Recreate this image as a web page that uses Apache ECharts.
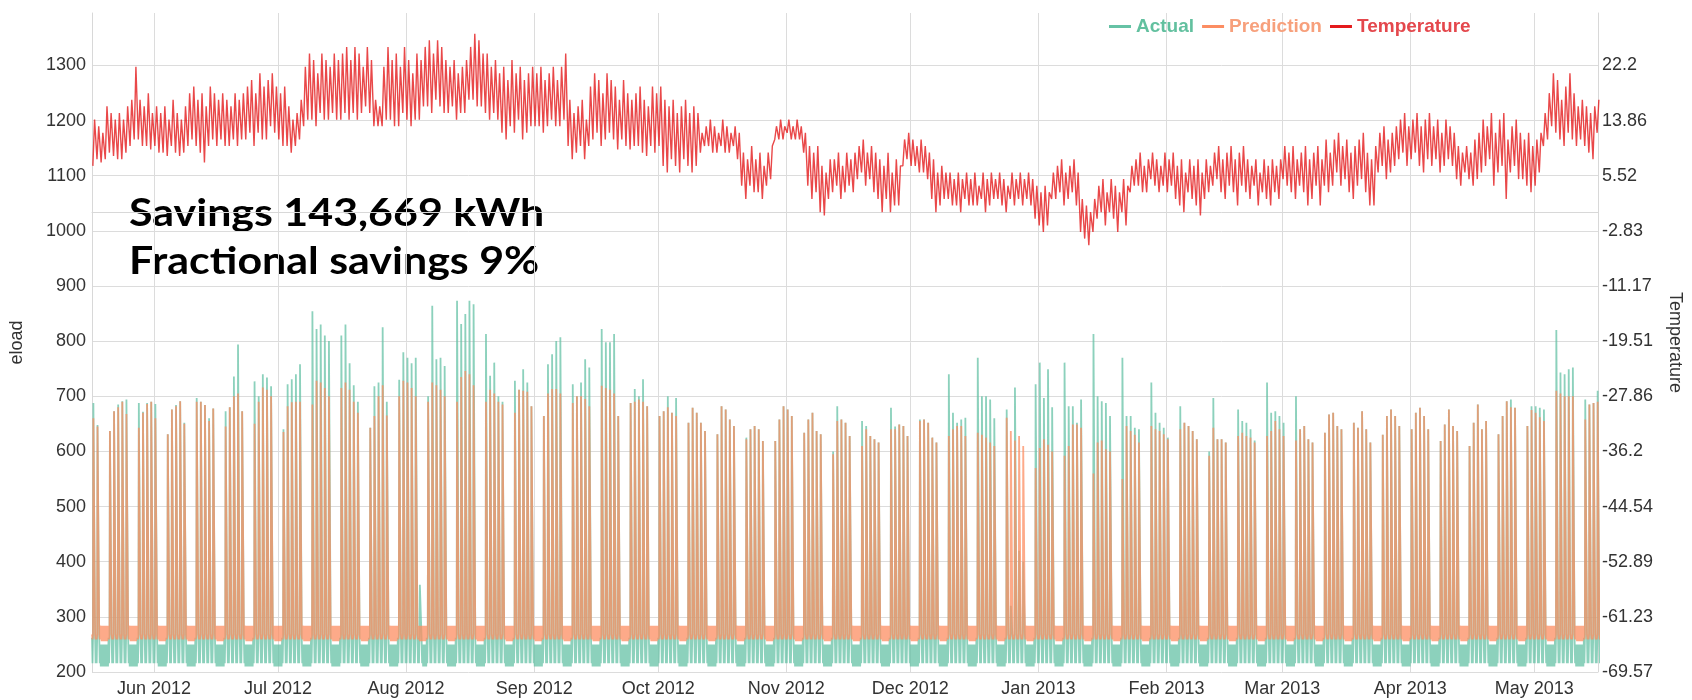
<!DOCTYPE html>
<html>
<head>
<meta charset="utf-8">
<title>eload: actual vs prediction</title>
<script src="https://cdn.jsdelivr.net/npm/echarts@6/dist/echarts.min.js"></script>
<style>
  html, body { margin: 0; padding: 0; background: #fff; }
  #chart { width: 1692px; height: 700px; }
</style>
</head>
<body>
<div id="chart"></div>
<script>
// daytime peak of each working day, one row per week (Mon..Fri), first row = week of Mon 2012-05-14
const actualPeak = [
  [null, null, null, 688, 648],
  [637, 673, 685, 691, 694], [688, 672, 688, 690, 686], [631, 676, 684, 691, 652], [697, 690, 684, 660, 678],
  [673, 680, 736, 794, 673], [727, 700, 740, 734, 718], [640, 722, 731, 740, 758], [854, 822, 830, 810, 800],
  [810, 830, 760, 720, 690], [643, 718, 725, 825, 690], [730, 780, 770, 760, 770], [700, 864, 767, 770, 755],
  [873, 831, 849, 873, 867], [813, 737, 761, 700, 690], [728, 712, 749, 725, 682], [664, 758, 776, 800, 807],
  [722, 700, 725, 767, 752], [822, 798, 798, 813, 664], [688, 713, 700, 731, 682], [664, 673, 700, 670, 697],
  [652, 679, 670, 652, 637], [631, 682, 676, 658, 646], [625, 640, 646, 640, 619], [619, 658, 682, 676, 664],
  [634, 658, 670, 637, 631], [600, 682, 658, 652, 628], [655, 646, 628, 622, 616], [679, 645, 649, 646, 628],
  [658, 658, 652, 625, 616], [740, 670, 652, 658, 661], [770, 700, 700, 694, 660], [676, 320, 716, 420, 400],
  [722, 761, 697, 749, 680], [761, 682, 682, 652, 694], [813, 700, 691, 688, 664], [770, 664, 664, 643, 640],
  [725, 670, 652, 643, 625], [682, 652, 646, 637, 622], [600, 697, 622, 622, 616], [676, 655, 652, 640, 620],
  [725, 670, 673, 664, 652], [700, 640, 646, 622, 616], [634, 667, 670, 646, 640], [652, 643, 673, 640, 616],
  [630, 664, 676, 664, 646], [640, 670, 679, 664, 640], [619, 649, 676, 646, 637], [610, 652, 685, 640, 655],
  [631, 664, 691, 694, 679], [646, 682, 682, 679, 676], [820, 743, 740, 749, 752], [694, 685, 688, 710, null]
];
const predictionPeak = [
  [null, null, null, 660, 645],
  [637, 673, 680, 690, 668], [643, 670, 686, 690, 660], [631, 676, 682, 691, 650], [690, 690, 684, 655, 678],
  [645, 680, 700, 705, 673], [650, 690, 716, 712, 700], [635, 682, 689, 690, 690], [685, 728, 725, 715, 700],
  [715, 725, 712, 690, 670], [643, 664, 700, 720, 665], [700, 728, 725, 715, 700], [690, 725, 720, 712, 700],
  [690, 735, 746, 740, 720], [690, 712, 705, 690, 685], [670, 712, 710, 708, 682], [664, 705, 713, 713, 705],
  [688, 700, 700, 695, 682], [719, 715, 712, 705, 664], [688, 690, 694, 690, 682], [664, 673, 680, 670, 664],
  [652, 679, 670, 652, 637], [631, 682, 676, 658, 646], [622, 640, 646, 640, 619], [619, 658, 682, 676, 664],
  [634, 658, 670, 637, 631], [595, 655, 658, 652, 628], [610, 640, 628, 622, 616], [640, 640, 649, 646, 628],
  [655, 658, 652, 625, 616], [628, 640, 646, 646, 628], [634, 630, 625, 616, 610], [661, 637, 620, 628, 610],
  [570, 606, 622, 612, 600], [592, 610, 649, 649, 643], [560, 616, 620, 604, 600], [550, 646, 637, 630, 616],
  [646, 640, 637, 631, 622], [640, 652, 646, 637, 622], [592, 643, 622, 622, 616], [628, 634, 628, 625, 616],
  [628, 637, 655, 640, 628], [620, 640, 646, 622, 616], [634, 667, 670, 646, 640], [652, 643, 673, 640, 616],
  [630, 664, 676, 664, 646], [640, 670, 679, 664, 640], [619, 649, 676, 646, 637], [610, 652, 685, 640, 655],
  [631, 664, 691, 680, 679], [646, 675, 670, 662, 655], [710, 705, 700, 700, 700], [658, 685, 688, 690, null]
];
// weekend days that still show a small peak
const actualExtra = { '2012-08-04': 358 };

// night levels of each series: [weekend upper, weekend lower, workday upper, workday lower]
const actualNight = [250, 210, 262, 216];
const predictionNight = [284, 256, 268, 259];

// daily min / max temperature, one value per day from 2012-05-17
const tempHi = [
  14, 13, 12, 16, 15, 14, 15, 14, 16, 17, 22, 17, 16, 18, 15, 16, 15, 16, 14, 17,
  15, 14, 16, 18, 19, 17, 18, 16, 19, 18, 17, 18, 17, 16, 18, 17, 18, 19, 20, 18,
  21, 19, 20, 21, 19, 18, 19, 16, 14, 15, 17, 22, 24, 23, 21, 24, 23, 22, 24, 23,
  24, 25, 23, 25, 24, 22, 25, 23, 17, 16, 22, 25, 23, 24, 22, 25, 23, 21, 24, 23,
  25, 26, 24, 26, 25, 23, 22, 23, 21, 22, 23, 25, 27, 26, 24, 24, 22, 23, 21, 22,
  20, 23, 21, 22, 20, 21, 22, 21, 22, 20, 21, 22, 20, 22, 24, 17, 15, 16, 17, 14,
  19, 21, 20, 18, 21, 20, 19, 17, 20, 18, 17, 18, 19, 17, 16, 19, 18, 19, 17, 16,
  17, 15, 16, 17, 15, 16, 15, 12, 13, 14, 13, 12, 14, 13, 12, 13, 12, 9, 8, 10,
  8, 9, 7, 9, 10, 13, 14, 13, 14, 13, 14, 13, 12, 10, 9, 10, 7, 6, 8, 8,
  9, 7, 9, 8, 9, 10, 11, 9, 10, 9, 8, 7, 9, 6, 8, 7, 11, 12, 11, 10,
  11, 10, 9, 8, 6, 7, 6, 6, 5, 6, 5, 6, 5, 6, 4, 6, 5, 6, 5, 6,
  5, 4, 6, 5, 6, 5, 6, 5, 4, 3, 4, 3, 6, 7, 8, 6, 7, 8, 6, 2,
  1, 0, 2, 4, 5, 3, 5, 4, 3, 5, 4, 7, 8, 9, 7, 8, 9, 8, 7, 9,
  8, 9, 7, 8, 6, 8, 7, 8, 6, 8, 7, 9, 10, 8, 9, 10, 8, 9, 10, 8,
  7, 8, 6, 8, 7, 8, 7, 8, 10, 9, 10, 8, 9, 10, 8, 9, 10, 8, 11, 9,
  11, 12, 10, 11, 9, 10, 11, 12, 9, 8, 10, 12, 13, 11, 12, 13, 14, 15, 13, 14,
  15, 13, 14, 15, 13, 14, 12, 14, 13, 12, 10, 9, 10, 9, 11, 12, 14, 13, 15, 12,
  14, 15, 11, 13, 14, 12, 11, 12, 10, 11, 12, 15, 18, 21, 20, 17, 19, 21, 18, 16,
  17, 16, 15, 16, 17
];
const tempLo = [
  7, 8, 7.5, 8, 9, 8.5, 8, 8, 9, 10, 11, 11, 10, 10, 9.5, 10, 9, 9, 8.5, 10,
  9, 8.5, 9, 10, 11, 10, 9, 7.5, 10, 11, 10, 11, 10, 10, 11, 10, 11, 11, 12, 10,
  12, 11, 11, 13, 12, 11, 10, 10, 9, 10, 11, 13, 14, 14, 13, 15, 14, 14, 15, 14,
  14, 15, 14, 15, 14, 15, 16, 15, 13, 13, 13, 14, 14, 13, 13, 15, 14, 13, 14, 14,
  16, 16, 15, 17, 16, 15, 15, 16, 14, 15, 15, 17, 17, 16, 16, 15, 14, 15, 14, 12,
  11, 13, 12, 14, 11, 12, 13, 13, 13, 12, 13, 14, 13, 13, 14, 10, 8, 9, 10, 8,
  10, 11, 12, 10, 11, 12, 11, 9.5, 11, 10, 9.5, 10, 10, 9, 8.5, 10, 9, 10, 7, 6,
  8, 7, 6, 8, 7, 6, 7, 9, 10, 10, 9, 9, 10, 9, 9, 10, 8, 4, 2, 4,
  3, 3, 2, 4, 5, 11, 11, 11, 12, 11, 11, 11, 9, 4, 2, 3, 0, -0.5, 2, 3,
  4, 2, 3, 4, 3, 5, 6, 4, 5, 3, 2, 0, 2, 0, 1, 1, 7, 8, 7, 7,
  6, 6, 5, 2, 0, 1, 2, 2, 1, 1, 0, 2, 1, 1, 1, 2, 0, 1, 2, 2,
  1, 0, 2, 1, 2, 1, 2, 1, -1, -2, -3, -2, 2, 2, 3, 1, 2, 3, 1, -3,
  -4, -5, -3, -1, 0, -2, 0, -1, -3, 0, -2, 3, 4, 4, 3, 3, 5, 4, 3, 4,
  3, 4, 2, 1, 0, 3, 2, 1, -0.5, 2, 3, 4, 5, 3, 2, 4, 3, 1, 4, 3,
  2, 4, 1, 3, 2, 1, 3, 2, 5, 4, 3, 2, 4, 3, 1, 2, 4, 1, 4, 3,
  4, 6, 4, 5, 3, 2, 4, 5, 3, 1, 1, 6, 7, 5, 6, 7, 8, 9, 7, 8,
  9, 7, 6, 8, 7, 8, 6, 7, 8, 7, 5, 4, 6, 5, 4, 5, 6, 7, 8, 4,
  6, 7, 2, 6, 7, 5, 5, 4, 3, 4, 6, 10, 11, 13, 12, 11, 10, 12, 11, 10,
  11, 10, 9, 8, 12
];

const tempTicks = ['-69.57', '-61.23', '-52.89', '-44.54', '-36.2', '-27.86', '-19.51', '-11.17', '-2.83', '5.52', '13.86', '22.2'];
const monthNames = ['Jan', 'Feb', 'Mar', 'Apr', 'May', 'Jun', 'Jul', 'Aug', 'Sep', 'Oct', 'Nov', 'Dec'];

// hours of a day and which level sits there: index into the night array, or 'pk' for the day peak
const actualWorkday = [[0, 2], [3, 3], [6, 2], [8, 'pk'], [16, 'pk'], [18, 2], [21, 3]];
const actualWeekend = [[0, 0], [3, 1], [6, 0], [9, 1], [12, 0], [15, 1], [18, 0], [21, 1]];
const predictionWorkday = [[0, 2], [3, 3], [6, 2], [8, 'pk'], [16, 'pk'], [18, 2], [21, 3]];
const predictionWeekend = [[0, 1], [4, 0], [8, 1], [12, 0], [16, 1], [20, 0]];

const dayCount = tempHi.length;
const tempMin = -69.572;
const tempStep = 8.3432;

function dayKey(d) {
  const p = (n) => String(n).padStart(2, '0');
  return d.getFullYear() + '-' + p(d.getMonth() + 1) + '-' + p(d.getDate());
}

function loadSeries(peaks, night, workday, weekend, extra) {
  const out = [];
  for (let d = 0; d < dayCount; d++) {
    const date = new Date(2012, 4, 17 + d);
    const wd = date.getDay();
    const week = Math.floor((d + 3) / 7);
    let peak = (wd >= 1 && wd <= 5) ? peaks[week][wd - 1] : null;
    if (extra && extra[dayKey(date)]) peak = extra[dayKey(date)];
    const shape = peak ? workday : weekend;
    shape.forEach(([h, lvl]) => {
      out.push([new Date(2012, 4, 17 + d, h).getTime(), lvl === 'pk' ? peak : night[lvl]]);
    });
  }
  return out;
}

const tempData = [];
for (let d = 0; d < dayCount; d++) {
  tempData.push([new Date(2012, 4, 17 + d, 5).getTime(), tempLo[d]]);
  tempData.push([new Date(2012, 4, 17 + d, 15).getTime(), tempHi[d]]);
}

const chart = echarts.init(document.getElementById('chart'));

const option = {
  animation: false,
  backgroundColor: '#fff',
  textStyle: { fontFamily: 'Liberation Sans, Arial, sans-serif' },
  grid: { left: 88, right: 80, top: 13, bottom: 28, containLabel: false },
  legend: {
    left: 1104,
    top: 12,
    icon: 'rect',
    itemWidth: 22,
    itemHeight: 3,
    itemGap: 8,
    textStyle: { fontSize: 19, fontWeight: 'bold' },
    data: [
      { name: 'Actual', textStyle: { color: '#62c09f' } },
      { name: 'Prediction', textStyle: { color: '#f7a07c' } },
      { name: 'Temperature', textStyle: { color: '#e4474c' } }
    ]
  },
  xAxis: {
    type: 'time',
    min: new Date(2012, 4, 17).getTime(),
    max: new Date(2013, 4, 16, 10).getTime(),
    splitNumber: 12,
    minInterval: 28 * 86400000,
    maxInterval: 31 * 86400000,
    axisLine: { lineStyle: { color: '#d8d8d8' } },
    axisTick: { show: false },
    axisLabel: {
      fontSize: 18,
      color: '#333',
      margin: 8,
      formatter: (v) => {
        const d = new Date(v);
        return monthNames[d.getMonth()] + ' ' + d.getFullYear();
      }
    },
    splitLine: { show: true, lineStyle: { color: '#dcdcdc', width: 1 } }
  },
  yAxis: [
    {
      type: 'value',
      name: 'eload',
      nameLocation: 'middle',
      nameGap: 66,
      nameTextStyle: { fontSize: 18, color: '#333' },
      min: 200,
      max: 1395,
      interval: 100,
      axisLine: { show: true, lineStyle: { color: '#d8d8d8' } },
      axisTick: { show: false },
      axisLabel: { fontSize: 18, color: '#333', margin: 6, showMaxLabel: false, formatter: (v) => String(v) },
      splitLine: { show: true, showMaxLine: false, lineStyle: { color: '#dcdcdc', width: 1 } }
    },
    {
      type: 'value',
      name: 'Temperature',
      nameLocation: 'middle',
      nameGap: 68,
      nameRotate: -90,
      nameTextStyle: { fontSize: 18, color: '#333' },
      min: tempMin,
      max: tempMin + tempStep * 11.95,
      interval: tempStep,
      axisLine: { show: true, lineStyle: { color: '#d8d8d8' } },
      axisTick: { show: false },
      axisLabel: {
        fontSize: 18,
        color: '#333',
        margin: 4,
        showMaxLabel: false,
        formatter: (v) => tempTicks[Math.round((v - tempMin) / tempStep)] || ''
      },
      splitLine: { show: false }
    }
  ],
  graphic: [
    {
      type: 'text', left: 129, top: 195, scaleX: 1.13, silent: true,
      style: { text: 'Savings 143,669 kWh', font: 'bold 38px Lato', fill: '#000' }
    },
    {
      type: 'text', left: 129, top: 243, scaleX: 1.13, silent: true,
      style: { text: 'Fractional savings 9%', font: 'bold 38px Lato', fill: '#000' }
    }
  ],
  series: [
    {
      name: 'Actual',
      type: 'line',
      yAxisIndex: 0,
      showSymbol: false,
      silent: true,
      color: '#66c2a5',
      lineStyle: { width: 1.8, color: '#66c2a5', opacity: 0.75 },
      data: loadSeries(actualPeak, actualNight, actualWorkday, actualWeekend, actualExtra)
    },
    {
      name: 'Prediction',
      type: 'line',
      yAxisIndex: 0,
      showSymbol: false,
      silent: true,
      color: '#fc8d62',
      lineStyle: { width: 1.8, color: '#fc8d62', opacity: 0.75 },
      data: loadSeries(predictionPeak, predictionNight, predictionWorkday, predictionWeekend, null)
    },
    {
      name: 'Temperature',
      type: 'line',
      yAxisIndex: 1,
      showSymbol: false,
      silent: true,
      color: '#e41a1c',
      lineStyle: { width: 1.4, color: '#e41a1c', opacity: 0.8 },
      data: tempData
    }
  ]
};

chart.setOption(option);
</script>
</body>
</html>
